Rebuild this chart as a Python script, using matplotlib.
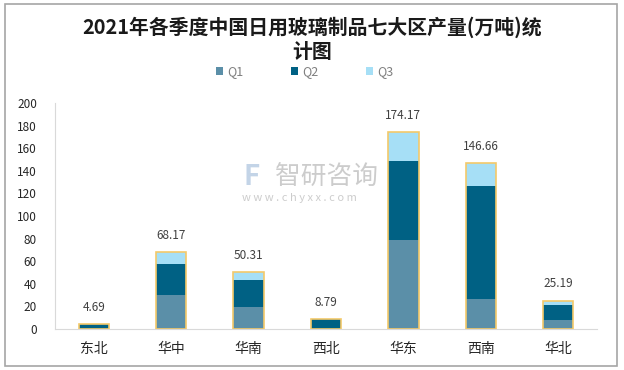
import numpy as np
import matplotlib.pyplot as plt
from matplotlib.patches import Rectangle

plt.rcParams['font.family'] = ['Noto Sans CJK SC', 'DejaVu Sans']

# 七大区 各季度产量(万吨)
regions = ['东北', '华中', '华南', '西北', '华东', '西南', '华北']
q1 = [0.0, 30.1, 19.2, 0.0, 78.8, 26.5, 8.0]
q2 = [4.69, 27.5, 24.2, 8.79, 69.9, 100.0, 13.2]
q3 = [0.0, 10.57, 6.91, 0.0, 25.47, 20.16, 3.99]
totals = [4.69, 68.17, 50.31, 8.79, 174.17, 146.66, 25.19]
yticks = [0, 20, 40, 60, 80, 100, 120, 140, 160, 180, 200]

fig = plt.figure(figsize=(6.24, 3.70), dpi=100)
fig.patches.append(Rectangle((5 / 624, 4 / 370), 612 / 624, 362 / 370, transform=fig.transFigure,
                             fill=False, edgecolor='#a6a6a6', linewidth=1.2))

ax = fig.add_axes([55 / 624, 41 / 370, 542 / 624, 226 / 370])
x = np.arange(len(regions))
w = 0.39
q1 = np.array(q1)
q2 = np.array(q2)
q3 = np.array(q3)

ax.bar(x, q1, w, color='#5b8fa8', label='Q1', zorder=2)
ax.bar(x, q2, w, bottom=q1, color='#006184', label='Q2', zorder=2)
ax.bar(x, q3, w, bottom=q1 + q2, color='#a6dff6', label='Q3', zorder=2)
# 合计外框
ax.bar(x, totals, w, fill=False, edgecolor='#f4c96a', linewidth=1.2, zorder=3)

for xi, t in zip(x, totals):
    ax.text(xi, t + 9, f'{t:.2f}', ha='center', va='bottom', fontsize=8.5, color='#404040')

ax.set_xlim(-0.5, len(regions) - 0.5)
ax.set_ylim(0, 200)
ax.set_yticks(yticks)
ax.set_xticks(x)
ax.set_xticklabels(regions, fontsize=10, color='#262626')
ax.tick_params(axis='y', labelsize=8.5, colors='#262626', length=0, pad=13)
ax.tick_params(axis='x', length=0, pad=9)
for s in ['top', 'right']:
    ax.spines[s].set_visible(False)
ax.spines['left'].set_color('#d9d9d9')
ax.spines['bottom'].set_color('#d9d9d9')

fig.text(0.5, 1 - 27 / 370, '2021年各季度中国日用玻璃制品七大区产量(万吨)统', ha='center', va='center',
         fontsize=14.3, fontweight='bold', color='#1a1a1a')
fig.text(0.5, 1 - 51 / 370, '计图', ha='center', va='center',
         fontsize=14.3, fontweight='bold', color='#1a1a1a')

handles, labels = ax.get_legend_handles_labels()
fig.legend(handles, labels, loc='center', bbox_to_anchor=(0.488, 1 - 72 / 370), ncol=3, frameon=False,
           fontsize=9, handlelength=0.6, handleheight=0.6, columnspacing=3.8, handletextpad=0.3,
           labelcolor='#7f7f7f')

# 水印
fig.text(275 / 624, 1 - 177 / 370, '智研咨询', fontsize=18.5, color='#c4c4c4', alpha=0.85, va='center')
fig.text(242 / 624, 1 - 198 / 370, 'w w w . c h y x x . c o m', fontsize=8, color='#c4c4c4', alpha=0.85,
         va='center')
fig.text(243 / 624, 1 - 177 / 370, 'F', fontsize=20, color='#b9cde3', alpha=0.85, va='center',
         fontweight='bold')

fig.savefig('out.png', dpi=100)
